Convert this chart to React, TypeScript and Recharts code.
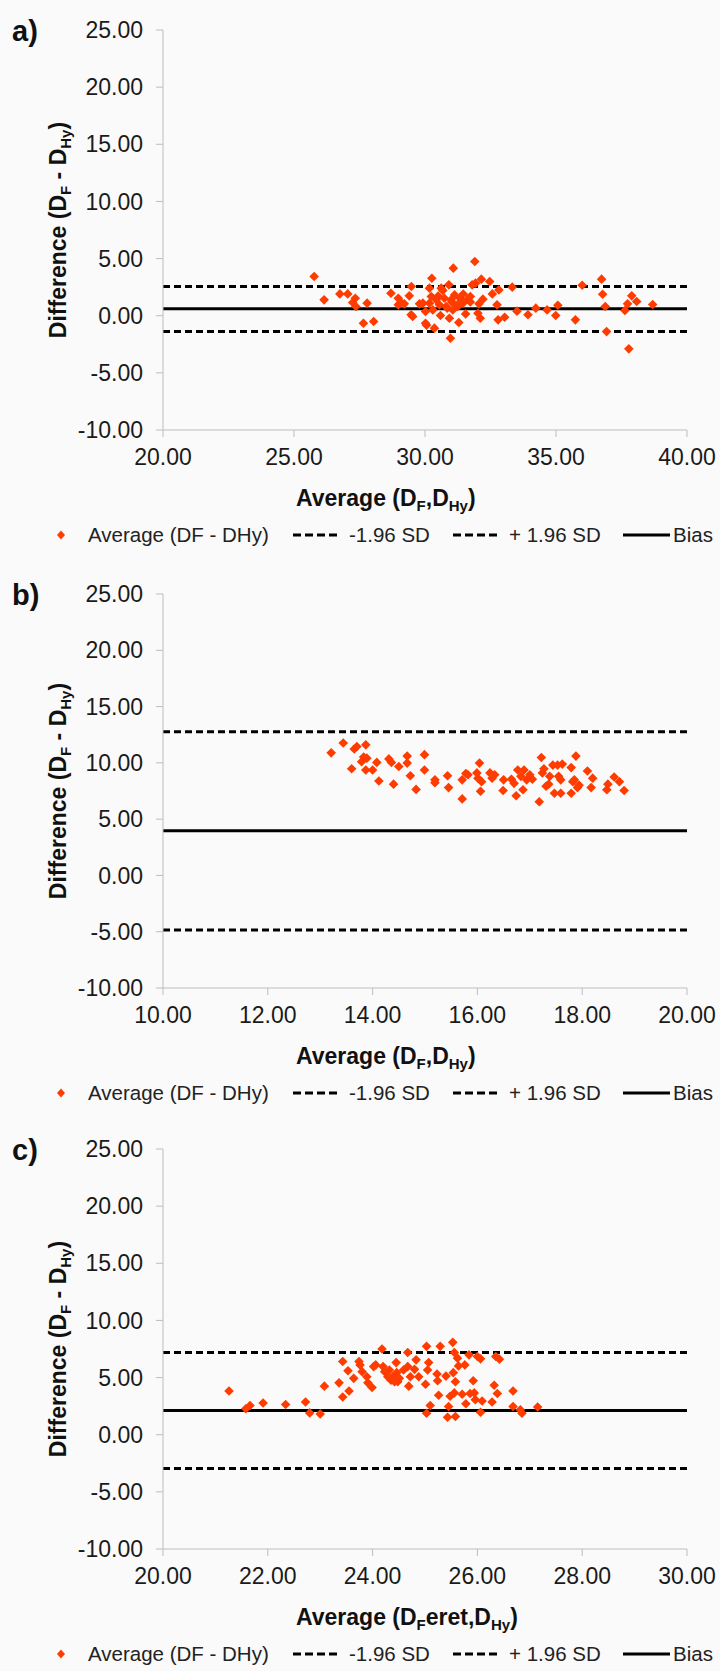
import React from "react";
import { ScatterChart, Scatter, XAxis, YAxis, ReferenceLine } from "recharts";

const RED = "#ff3c00";
const FONT = "'Liberation Sans', Arial, sans-serif";

// y axis is shared by all three panels
const diffTicks = [-10, -5, 0, 5, 10, 15, 20, 25];

// a) Average (DF,DHy) vs difference
const aTicks = [20, 25, 30, 35, 40];
const aLimits = [-1.38, 0.6, 2.56]; // -1.96 SD, bias, +1.96 SD
const aPoints: [number, number][] = [
  [25.77, 3.43], [26.15, 1.39], [26.75, 1.91], [27.05, 1.91], [27.34, 1.53], [27.24, 1.16],
  [27.36, 0.81], [27.79, 1.1], [27.65, -0.66], [28.04, -0.51], [28.7, 1.97], [28.98, 1.53],
  [29.09, 1.16], [29.21, 1.04], [28.98, 0.95], [29.4, 1.74], [29.48, 2.55], [29.47, 0.08],
  [29.53, -0.07], [29.79, 1.04], [29.92, 1.1], [30.02, 0.37], [30.02, -0.66], [30.26, 3.28],
  [30.17, 2.41], [30.24, 1.68], [30.36, -1.09], [30.17, 1.1], [30.3, 0.51], [30.43, 1.39],
  [30.55, 0.95], [30.59, 0.02], [30.62, 2.41], [30.74, 1.53], [30.81, 0.81], [30.91, 2.7],
  [30.93, -0.22], [30.97, -1.97], [31.0, 1.39], [31.08, 4.16], [31.06, 0.51], [31.13, 1.82],
  [31.25, 0.81], [31.29, -0.6], [31.34, 1.53], [31.45, 1.1], [31.55, 0.16], [31.64, 1.45],
  [31.73, 1.68], [31.8, 2.7], [31.9, 4.75], [31.93, 2.85], [32.02, 0.22], [32.06, 1.04],
  [32.11, -0.22], [32.15, 3.2], [32.21, 1.45], [32.47, 2.99], [32.57, 1.91], [32.75, 0.95],
  [32.79, -0.36], [32.82, 2.26], [33.04, -0.13], [33.33, 2.5], [33.51, 0.4], [33.93, 0.08],
  [34.23, 0.66], [34.66, 0.51], [34.99, 0.02], [35.07, 0.92], [35.74, -0.36], [36.0, 2.67],
  [36.74, 3.2], [36.78, 1.88], [36.88, 0.81], [36.93, -1.39], [37.63, 0.45], [37.73, 1.04],
  [37.78, -2.9], [37.89, 1.74], [38.08, 1.24], [38.69, 0.98],
  [30.06, -0.84], [30.68, 2.2], [31.02, 1.2], [31.2, 0.9], [31.38, 1.3], [31.46, 1.9],
  [31.73, 1.2], [30.85, 0.66], [30.5, 1.72],
];

// b)
const bTicks = [10, 12, 14, 16, 18, 20];
const bLimits = [-4.85, 3.96, 12.76];
const bPoints: [number, number][] = [
  [13.21, 10.89], [13.44, 11.76], [13.65, 11.23], [13.7, 11.45], [13.87, 11.6], [13.6, 9.48],
  [13.79, 10.1], [13.83, 10.51], [13.89, 10.42], [13.87, 9.36], [14.0, 9.36], [14.08, 10.04],
  [14.12, 8.39], [14.31, 10.35], [14.36, 10.04], [14.4, 8.11], [14.5, 9.67], [14.66, 10.6],
  [14.66, 9.98], [14.72, 8.86], [14.83, 7.64], [14.99, 10.73], [14.99, 9.36], [15.19, 8.49],
  [15.19, 8.24], [15.43, 8.86], [15.45, 7.8], [15.71, 8.49], [15.71, 6.8], [15.78, 9.05],
  [15.82, 8.95], [15.99, 9.11], [16.01, 8.64], [16.04, 9.98], [16.06, 7.48], [16.08, 8.33],
  [16.24, 9.11], [16.28, 8.64], [16.33, 8.95], [16.49, 7.55], [16.5, 8.49], [16.65, 8.55],
  [16.7, 8.18], [16.74, 7.08], [16.77, 9.36], [16.83, 8.8], [16.87, 7.61], [16.89, 9.36],
  [16.94, 8.49], [17.0, 8.95], [17.05, 8.55], [17.18, 6.55], [17.22, 10.48], [17.24, 9.11],
  [17.27, 9.48], [17.31, 7.92], [17.36, 8.11], [17.38, 8.8], [17.44, 9.8], [17.47, 7.3],
  [17.53, 9.8], [17.55, 8.8], [17.59, 8.49], [17.59, 7.3], [17.62, 9.89], [17.79, 9.58],
  [17.79, 7.3], [17.82, 8.33], [17.85, 8.49], [17.88, 10.6], [17.91, 7.8], [17.94, 8.02],
  [18.1, 9.27], [18.17, 7.8], [18.2, 8.64], [18.47, 7.61], [18.49, 8.11], [18.61, 8.74],
  [18.71, 8.33], [18.8, 7.55],
];

// c)
const cTicks = [20, 22, 24, 26, 28, 30];
const cLimits = [-2.95, 2.12, 7.2];
const cPoints: [number, number][] = [
  [21.26, 3.83], [21.58, 2.27], [21.66, 2.56], [21.91, 2.77], [22.34, 2.65], [22.72, 2.86],
  [22.8, 1.91], [23.0, 1.82], [23.08, 4.25], [23.36, 4.54], [23.43, 6.4], [23.43, 3.3],
  [23.53, 5.6], [23.55, 3.83], [23.64, 4.93], [23.74, 6.4], [23.76, 6.11], [23.8, 5.52],
  [23.89, 5.07], [23.91, 4.54], [23.99, 4.13], [24.02, 5.96], [24.06, 6.11], [24.18, 7.5],
  [24.2, 5.96], [24.23, 5.52], [24.29, 5.07], [24.32, 5.66], [24.35, 4.78], [24.38, 5.07],
  [24.42, 4.63], [24.45, 6.31], [24.46, 5.43], [24.48, 4.63], [24.51, 4.93], [24.59, 5.66],
  [24.67, 7.2], [24.67, 5.96], [24.69, 4.25], [24.72, 5.07], [24.8, 5.72], [24.83, 6.55],
  [24.88, 5.07], [25.01, 4.42], [25.03, 7.73], [25.05, 5.66], [25.07, 6.31], [25.03, 1.88],
  [25.1, 2.56], [25.23, 5.31], [25.24, 4.72], [25.26, 3.45], [25.29, 7.73], [25.4, 5.13],
  [25.43, 1.53], [25.45, 2.47], [25.48, 3.36], [25.53, 8.08], [25.54, 5.43], [25.56, 7.2],
  [25.56, 3.66], [25.58, 1.59], [25.58, 4.63], [25.62, 6.7], [25.64, 6.02], [25.71, 3.54],
  [25.76, 6.11], [25.78, 2.71], [25.84, 6.99], [25.86, 3.6], [25.92, 4.72], [25.94, 3.66],
  [25.96, 3.07], [26.0, 6.84], [26.06, 6.64], [26.06, 1.97], [26.09, 2.95], [26.28, 2.86],
  [26.32, 4.33], [26.35, 6.84], [26.38, 3.6], [26.42, 6.61], [26.68, 3.83], [26.68, 2.47],
  [26.82, 2.18], [26.85, 1.88], [27.15, 2.42],
];

const f2 = (v: number) => v.toFixed(2);

const diamond = (p: any) => (
  <path
    d={`M${p.cx},${p.cy - 4.8}L${p.cx + 4.8},${p.cy}L${p.cx},${p.cy + 4.8}L${p.cx - 4.8},${p.cy}Z`}
    fill={RED}
  />
);

// text parts, subscripts flagged with true
const titleStyle = { fontFamily: FONT, fontWeight: "bold" as const, fontSize: 23, fill: "#111" };

function Parts({ parts }: { parts: [string, boolean][] }) {
  let prevSub = false;
  return (
    <>
      {parts.map(([t, sub], i) => {
        const dy = sub && !prevSub ? 5 : !sub && prevSub ? -5 : 0;
        prevSub = sub;
        return (
          <tspan key={i} dy={dy} fontSize={sub ? 15 : 23}>
            {t}
          </tspan>
        );
      })}
    </>
  );
}

const yTitle: [string, boolean][] = [["Difference (D", false], ["F", true], [" - D", false], ["Hy", true], [")", false]];
const xTitle: [string, boolean][] = [["Average (D", false], ["F", true], [",D", false], ["Hy", true], [")", false]];
const xTitleEret: [string, boolean][] = [["Average (D", false], ["F", true], ["eret,D", false], ["Hy", true], [")", false]];

function Legend({ top }: { top: number }) {
  const ts = { fontFamily: FONT, fontSize: 20.5, fill: "#222" };
  return (
    <svg width={720} height={30} style={{ position: "absolute", left: 0, top }}>
      <path d="M61,10.5L65,15L61,19.5L57,15Z" fill={RED} />
      <text x={88} y={22} {...ts}>Average (DF - DHy)</text>
      <line x1={293} x2={340} y1={15} y2={15} stroke="#000" strokeWidth={3} strokeDasharray="8 4" />
      <text x={349} y={22} {...ts}>-1.96 SD</text>
      <line x1={453} x2={500} y1={15} y2={15} stroke="#000" strokeWidth={3} strokeDasharray="8 4" />
      <text x={509} y={22} {...ts}>+ 1.96 SD</text>
      <line x1={623} x2={670} y1={15} y2={15} stroke="#000" strokeWidth={3} />
      <text x={673} y={22} {...ts}>Bias</text>
    </svg>
  );
}

function Panel({
  letter, points, limits, xTicks, top, plotH, title,
}: {
  letter: string;
  points: [number, number][];
  limits: number[];
  xTicks: number[];
  top: number;
  plotH: number;
  title: [string, boolean][];
}) {
  const data = points.map(([x, y]) => ({ x, y }));
  const H = 30 + plotH + 125;
  const tick = { fill: "#1a1a1a", fontSize: 23, fontFamily: FONT };
  return (
    <div style={{ position: "absolute", left: 0, top, width: 720, height: H }}>
      <span
        style={{
          position: "absolute", left: 12, top: 17, fontFamily: FONT, fontWeight: "bold",
          fontSize: 29, lineHeight: "29px", color: "#111",
        }}
      >
        {letter}
      </span>
      <ScatterChart width={720} height={H} margin={{ top: 30, right: 33, left: 103, bottom: 55 }}>
        <XAxis
          type="number"
          dataKey="x"
          domain={[xTicks[0], xTicks[xTicks.length - 1]]}
          ticks={xTicks}
          interval={0}
          tickFormatter={f2}
          tick={tick}
          tickSize={7}
          tickMargin={12}
          stroke="#bdbdbd"
          height={70}
          label={{
            content: ({ viewBox }: any) => (
              <text x={296} y={viewBox.y + 76} textAnchor="start" {...titleStyle}>
                <Parts parts={title} />
              </text>
            ),
          }}
        />
        <YAxis
          type="number"
          dataKey="y"
          domain={[-10, 25]}
          ticks={diffTicks}
          interval={0}
          tickFormatter={f2}
          tick={tick}
          tickSize={7}
          tickMargin={13}
          stroke="#bdbdbd"
          width={60}
          label={{
            content: ({ viewBox }: any) => (
              <text
                transform={`translate(66 ${viewBox.y + viewBox.height / 2}) rotate(-90)`}
                x={0}
                y={0}
                textAnchor="middle"
                {...titleStyle}
              >
                <Parts parts={yTitle} />
              </text>
            ),
          }}
        />
        <ReferenceLine y={limits[2]} stroke="#000" strokeWidth={3} strokeDasharray="7 4" />
        <ReferenceLine y={limits[0]} stroke="#000" strokeWidth={3} strokeDasharray="7 4" />
        <ReferenceLine y={limits[1]} stroke="#000" strokeWidth={3} />
        <Scatter data={data} fill={RED} shape={diamond} isAnimationActive={false} />
      </ScatterChart>
      <Legend top={30 + plotH + 105 - 15} />
    </div>
  );
}

export default function App() {
  return (
    <div
      style={{
        position: "absolute", left: 0, top: 0, width: 720, height: 1671,
        background: "#fafafa", overflow: "hidden",
      }}
    >
      <Panel letter="a)" points={aPoints} limits={aLimits} xTicks={aTicks} top={0} plotH={400} title={xTitle} />
      <Panel letter="b)" points={bPoints} limits={bLimits} xTicks={bTicks} top={564} plotH={394} title={xTitle} />
      <Panel letter="c)" points={cPoints} limits={cLimits} xTicks={cTicks} top={1119} plotH={400} title={xTitleEret} />
    </div>
  );
}
